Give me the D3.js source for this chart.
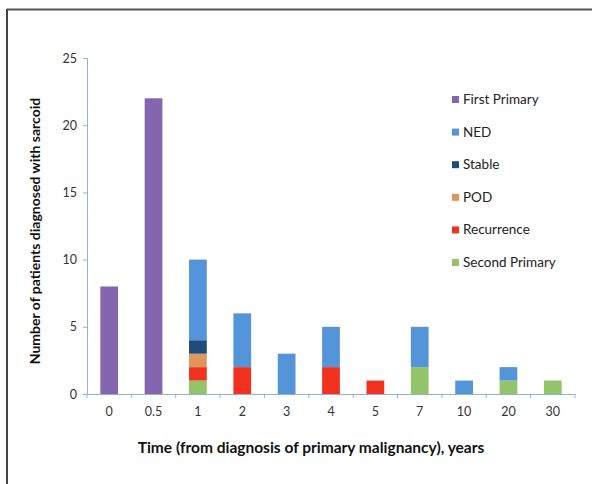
<!DOCTYPE html>
<html><head><meta charset="utf-8">
<script src="https://cdn.jsdelivr.net/npm/d3@7"></script>
<style>body{margin:0;background:#fff}svg{display:block}</style>
</head><body>
<script>
const categories = ["0","0.5","1","2","3","4","5","7","10","20","30"];
const seriesNames = ["Second Primary","Recurrence","POD","Stable","NED","First Primary"];
const secondPrimary = [0,0,1,0,0,0,0,2,0,1,1];
const recurrence    = [0,0,1,2,0,2,1,0,0,0,0];
const pod           = [0,0,1,0,0,0,0,0,0,0,0];
const stable        = [0,0,1,0,0,0,0,0,0,0,0];
const ned           = [0,0,6,4,3,3,0,3,1,1,0];
const firstPrimary  = [8,22,0,0,0,0,0,0,0,0,0];
const yTicks = [0,5,10,15,20,25];
const colors = {"First Primary":"#8466b0","NED":"#5495d9","Stable":"#1f4a7a","POD":"#e0955c","Recurrence":"#f2321f","Second Primary":"#93c46a"};
const legendOrder = ["First Primary","NED","Stable","POD","Recurrence","Second Primary"];

const seriesValues = [secondPrimary,recurrence,pod,stable,ned,firstPrimary];
const table = categories.map((c,i)=>{const o={cat:c};seriesNames.forEach((s,j)=>o[s]=seriesValues[j][i]);return o;});
const stacked = d3.stack().keys(seriesNames)(table);

const W=592,H=484;
const svg=d3.select("body").append("svg").attr("width",W).attr("height",H);
svg.append("rect").attr("width",W).attr("height",H).attr("fill","#fff");
// frame
svg.append("line").attr("x1",7).attr("x2",W).attr("y1",9.5).attr("y2",9.5).attr("stroke","#555").attr("stroke-width",2);
svg.append("line").attr("x1",7).attr("x2",7).attr("y1",9).attr("y2",H).attr("stroke","#444").attr("stroke-width",2);

const pLeft=87,pRight=575,pTop=58,pBottom=394;
const x=d3.scaleBand().domain(categories).range([pLeft,pRight]).paddingInner(0.6).paddingOuter(0.3);
const xb=d3.scaleBand().domain(categories).range([pLeft,pRight]);
const y=d3.scaleLinear().domain([0,25]).range([pBottom,pTop]);
const font="Lato, 'Open Sans', sans-serif";
const axisColor="#8fb3d6";

// bars
svg.append("g").selectAll("g").data(stacked).join("g").attr("fill",d=>colors[d.key])
 .selectAll("rect").data(d=>d).join("rect")
 .attr("x",d=>x(d.data.cat)).attr("width",x.bandwidth())
 .attr("y",d=>y(d[1])).attr("height",d=>y(d[0])-y(d[1]));

// y axis
const ya=svg.append("g").attr("transform",`translate(${pLeft},0)`).call(d3.axisLeft(y).tickValues(yTicks).tickSize(4).tickPadding(6));
ya.select(".domain").attr("stroke",axisColor);
ya.selectAll(".tick line").attr("stroke",axisColor);
ya.selectAll("text").attr("font-family",font).attr("font-size",12.5).attr("fill","#333");

// x axis
const xa=svg.append("g").attr("transform",`translate(0,${pBottom})`).call(d3.axisBottom(xb).tickSize(0).tickPadding(13));
xa.select(".domain").attr("stroke",axisColor);
xa.selectAll("text").attr("font-family",font).attr("font-size",12.5).attr("fill","#333");
const bounds=categories.map(c=>xb(c)).concat([pRight]);
svg.append("g").selectAll("line").data(bounds).join("line")
 .attr("x1",d=>d).attr("x2",d=>d).attr("y1",pBottom).attr("y2",pBottom+4).attr("stroke",axisColor);

// titles
svg.append("text").attr("x",311).attr("y",453).attr("text-anchor","middle")
 .attr("font-family",font).attr("font-weight","bold").attr("font-size",15.5).attr("fill","#111")
 .text("Time (from diagnosis of primary malignancy), years");
svg.append("text").attr("transform","translate(40,231) rotate(-90)").attr("text-anchor","middle")
 .attr("font-family",font).attr("font-weight","bold").attr("font-size",14).attr("fill","#111")
 .text("Number of patients diagnosed with sarcoid");

// legend
const lg=svg.append("g").selectAll("g").data(legendOrder).join("g")
 .attr("transform",(d,i)=>`translate(452,${104+i*32.6})`);
lg.append("rect").attr("x",0).attr("y",-8).attr("width",7).attr("height",7).attr("fill",d=>colors[d]);
lg.append("text").attr("x",11).attr("y",0).attr("font-family",font).attr("font-size",13.5).attr("fill","#222").text(d=>d);
</script>
</body></html>
